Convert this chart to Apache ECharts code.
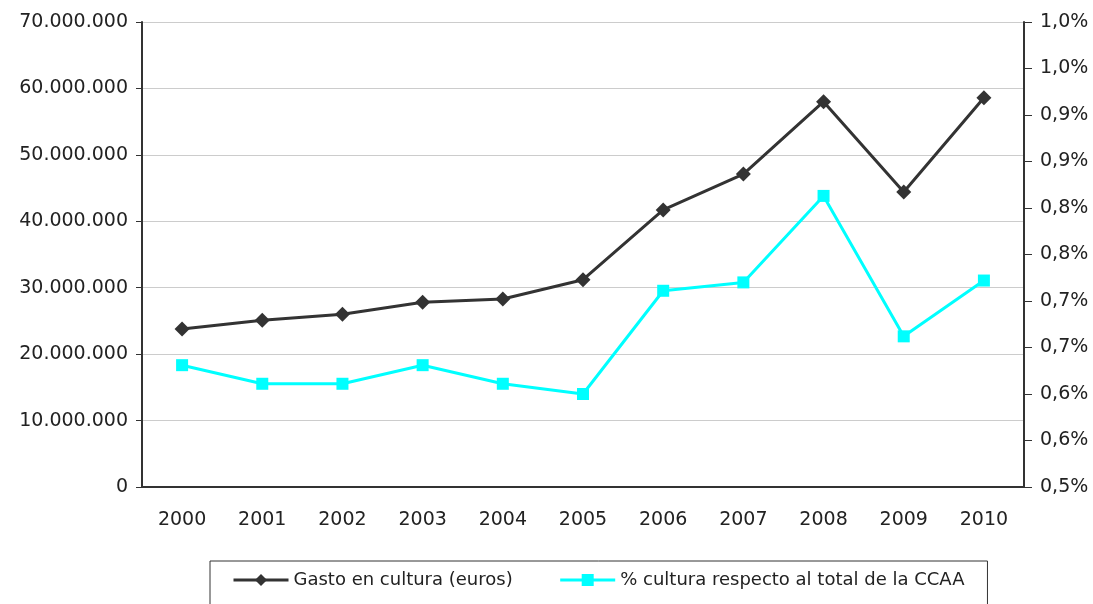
<!DOCTYPE html>
<html>
<head>
<meta charset="utf-8">
<script src="https://cdn.jsdelivr.net/npm/echarts@6/dist/echarts.min.js"></script>
<style>
  html, body { margin: 0; padding: 0; background: #fff; }
  #main { width: 1093px; height: 604px; }
</style>
</head>
<body>
<div id="main"></div>
<script>
// datos
var years = ['2000', '2001', '2002', '2003', '2004', '2005', '2006', '2007', '2008', '2009', '2010'];
var gasto = [23800000, 25100000, 26000000, 27800000, 28300000, 31200000, 41700000, 47100000, 58000000, 44400000, 58600000];
var porcentaje = [0.631, 0.611, 0.611, 0.631, 0.611, 0.600, 0.711, 0.720, 0.813, 0.662, 0.722];
var rightLabels = ['0,5%', '0,6%', '0,6%', '0,7%', '0,7%', '0,8%', '0,8%', '0,9%', '0,9%', '1,0%', '1,0%'];

var font = 'DejaVu Sans';
var txt = '#222';

var myChart = echarts.init(document.getElementById('main'));
myChart.setOption({
  animation: false,
  grid: { left: 142, right: 69, top: 22, bottom: 117 },
  legend: {
    left: 210, top: 561,
    padding: [10, 23, 16, 22],
    borderColor: '#333', borderWidth: 1,
    itemGap: 46, itemWidth: 55, itemHeight: 15,
    lineStyle: { width: 3 },
    textStyle: { fontFamily: font, fontSize: 18, color: txt },
    data: ['Gasto en cultura (euros)', '% cultura respecto al total de la CCAA']
  },
  xAxis: {
    type: 'category',
    data: years,
    boundaryGap: true,
    axisLine: { lineStyle: { color: '#333', width: 2 } },
    axisTick: { length: 7, lineStyle: { color: '#333' } },
    axisLabel: { fontFamily: font, fontSize: 19, color: txt, margin: 24 }
  },
  yAxis: [{
    type: 'value',
    min: 0, max: 70000000, interval: 10000000,
    axisLine: { show: true, lineStyle: { color: '#333', width: 2 } },
    axisTick: { show: true, length: 6, lineStyle: { color: '#333' } },
    splitLine: { lineStyle: { color: '#ccc', width: 1 } },
    axisLabel: {
      fontFamily: font, fontSize: 19, color: txt, margin: 14,
      formatter: function (v) { return String(v).replace(/\B(?=(\d{3})+(?!\d))/g, '.'); }
    }
  }, {
    type: 'value',
    min: 0.5, max: 1.0, interval: 0.05,
    position: 'right',
    axisLine: { show: true, lineStyle: { color: '#333', width: 2 } },
    axisTick: { show: true, length: 8, lineStyle: { color: '#333' } },
    splitLine: { show: false },
    axisLabel: {
      fontFamily: font, fontSize: 19, color: txt, margin: 16,
      formatter: function (v) { return rightLabels[Math.round((v - 0.5) / 0.05)]; }
    }
  }],
  series: [{
    name: 'Gasto en cultura (euros)',
    type: 'line',
    yAxisIndex: 0,
    data: gasto,
    symbol: 'diamond', symbolSize: 15,
    lineStyle: { color: '#333', width: 3 },
    itemStyle: { color: '#333' }
  }, {
    name: '% cultura respecto al total de la CCAA',
    type: 'line',
    yAxisIndex: 1,
    data: porcentaje,
    symbol: 'rect', symbolSize: 12,
    lineStyle: { color: '#00ffff', width: 3 },
    itemStyle: { color: '#00ffff' }
  }]
});
</script>
</body>
</html>
